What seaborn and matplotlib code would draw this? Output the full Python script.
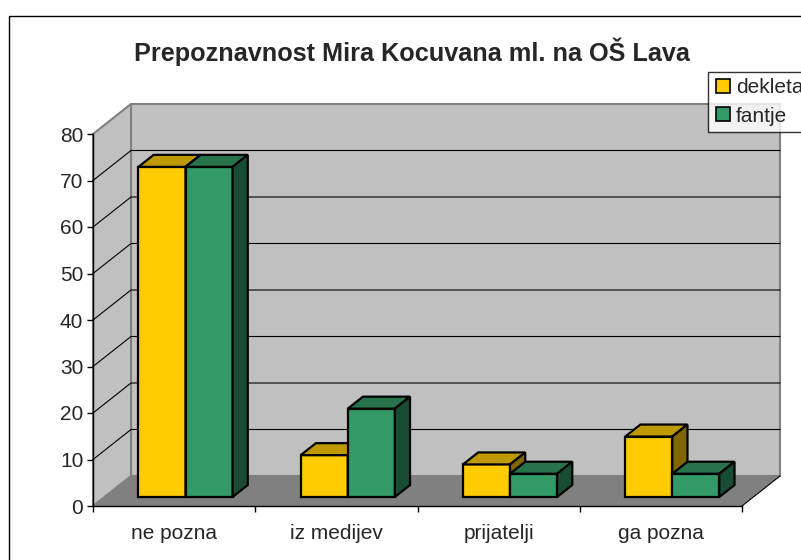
import matplotlib
matplotlib.use('Agg')
import matplotlib.pyplot as plt
from matplotlib.patches import Polygon, Rectangle
from matplotlib.lines import Line2D
import seaborn as sns
import pandas as pd

# podatki
kategorije = ['ne pozna', 'iz medijev', 'prijatelji', 'ga pozna']
dekleta = [71, 9, 7, 13]
fantje = [71, 19, 5, 5]
skupine = ['dekleta', 'fantje']
naslov = 'Prepoznavnost Mira Kocuvana ml. na OŠ Lava'

barve = {'dekleta': ('#FFCC00', '#BF9900', '#806600'),
         'fantje': ('#339966', '#26734C', '#194D33')}

df = pd.DataFrame({
    'kategorija': kategorije * 2,
    'spol': ['dekleta'] * 4 + ['fantje'] * 4,
    'vrednost': dekleta + fantje,
})

sns.set_style('white')
plt.rcParams['font.family'] = ['Liberation Sans', 'DejaVu Sans']

fig = plt.figure(figsize=(8.01, 5.60), dpi=100)
W, H = 801, 560
ax = fig.add_axes([93 / W, 1 - 506 / H, (742 - 93) / W, (506 - 134) / H])

sns.barplot(data=df, x='kategorija', y='vrednost', hue='spol',
            palette=[barve[s][0] for s in skupine], width=0.58, saturation=1,
            edgecolor='black', linewidth=1.6, legend=False, ax=ax)
stolpci = list(ax.patches)

ax.set_xlim(-0.5, 3.5)
ax.set_ylim(0, 80)
ax.patch.set_visible(False)

# globina 3D
DX = 38 / ((742 - 93) / 4)
DY = 30 / ((506 - 134) / 80)
z0, d = 0.30, 0.40

# stene in tla
ax.add_patch(Rectangle((-0.5 + DX, DY), 4, 80, facecolor='#C0C0C0', edgecolor='#808080',
                       lw=1.5, zorder=0.5, clip_on=False))
ax.add_patch(Polygon([(-0.5, 0), (-0.5 + DX, DY), (-0.5 + DX, 80 + DY), (-0.5, 80)],
                     facecolor='#C0C0C0', edgecolor='#808080', lw=1.5, zorder=0.5, clip_on=False))
for v in range(10, 80, 10):
    ax.plot([-0.5, -0.5 + DX, 3.5 + DX], [v, v + DY, v + DY], color='black', lw=0.8,
            zorder=0.6, clip_on=False)
ax.add_patch(Polygon([(-0.5, 0), (3.5, 0), (3.5 + DX, DY), (-0.5 + DX, DY)],
                     facecolor='#808080', edgecolor='none', zorder=0.7, clip_on=False))
ax.plot([3.5, 3.5 + DX], [0, DY], color='black', lw=0.8, zorder=0.7, clip_on=False)

# 3D stolpci
ox, oy = z0 * DX, z0 * DY
ddx, ddy = d * DX, d * DY
for i, p in enumerate(stolpci):
    s = skupine[i // 4]
    k = i % 4
    z = 3 + k + 0.5 * (i // 4)
    xl, w, h = p.get_x(), p.get_width(), p.get_height()
    p.set_x(xl + ox)
    p.set_y(oy)
    p.set_zorder(z)
    p.set_clip_on(False)
    x1, x2 = xl + ox, xl + ox + w
    top = [(x1, oy + h), (x2, oy + h), (x2 + ddx, oy + h + ddy), (x1 + ddx, oy + h + ddy)]
    side = [(x2, oy), (x2 + ddx, oy + ddy), (x2 + ddx, oy + h + ddy), (x2, oy + h)]
    ax.add_patch(Polygon(top, facecolor=barve[s][1], edgecolor='black', lw=1.6,
                         zorder=z + 0.1, clip_on=False, joinstyle='miter'))
    ax.add_patch(Polygon(side, facecolor=barve[s][2], edgecolor='black', lw=1.6,
                         zorder=z + 0.1, clip_on=False, joinstyle='miter'))

# osi
for sp in ['top', 'right']:
    ax.spines[sp].set_visible(False)
for sp in ['left', 'bottom']:
    ax.spines[sp].set_color('black')
    ax.spines[sp].set_linewidth(1)
    ax.spines[sp].set_zorder(2)
ax.set_yticks(range(0, 81, 10))
ax.tick_params(axis='y', direction='out', length=4.5, width=1, pad=2.5, labelsize=15,
               left=True, color='black')
ax.set_xticks(range(4))
ax.set_xticklabels(kategorije)
ax.set_xticks([-0.5, 0.5, 1.5, 2.5, 3.5], minor=True)
ax.tick_params(axis='x', which='major', length=0, pad=13, labelsize=15)
ax.tick_params(axis='x', which='minor', direction='out', length=4.5, width=1,
               bottom=True, color='black')
ax.set_xlabel('')
ax.set_ylabel('')

fig.text(412 / W, 1 - 52 / H, naslov, ha='center', va='center', fontsize=18.2,
         fontweight='bold')

rocaji = [Line2D([], [], marker='s', markersize=10, linestyle='none',
                 markerfacecolor=barve[s][0], markeredgecolor='black', markeredgewidth=1.2)
          for s in skupine]
leg = fig.legend(rocaji, skupine, loc='upper left', bbox_to_anchor=(708 / W, 1 - 72 / H),
                 frameon=True, fancybox=False, edgecolor='black', fontsize=15,
                 handlelength=0.8, handletextpad=0.25, borderpad=0.3, labelspacing=0.45,
                 borderaxespad=0)
leg.get_frame().set_linewidth(1)

fig.patches.append(Rectangle((9 / W, -0.1), 1.2, 1 - 16 / H + 0.1, transform=fig.transFigure,
                             fill=False, edgecolor='black', lw=1))

fig.savefig('out.png', dpi=100)
plt.close(fig)
